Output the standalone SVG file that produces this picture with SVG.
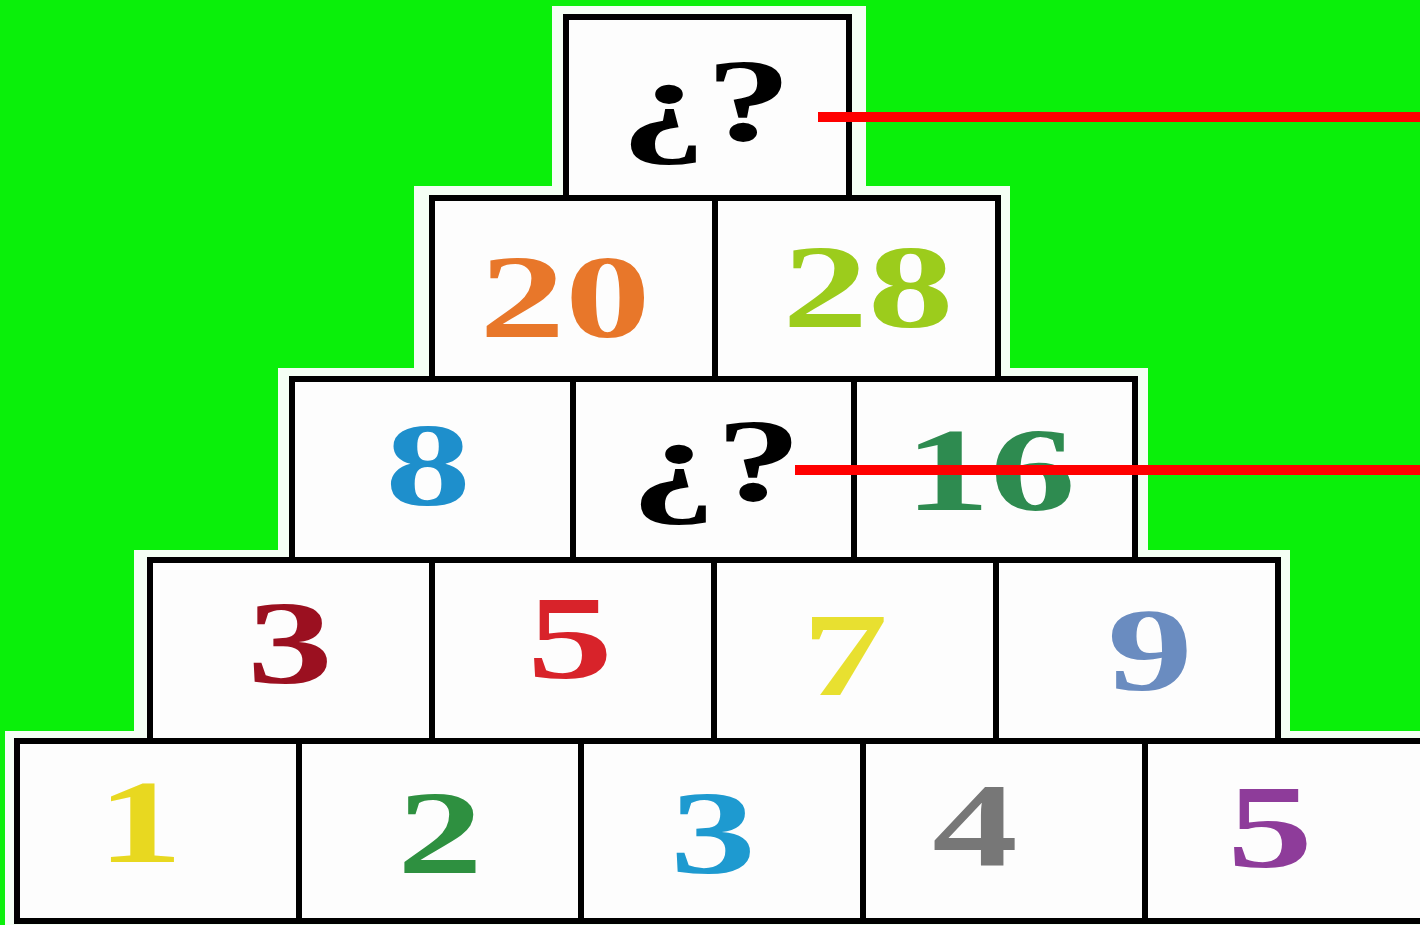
<svg xmlns="http://www.w3.org/2000/svg" width="1420" height="925" viewBox="0 0 1420 925">
<style>
.cell{fill:#fdfdfd;stroke:#000;stroke-width:6}
.num{font-family:"Liberation Serif","DejaVu Serif",serif;font-weight:bold;font-size:118px;text-anchor:middle}
.red{stroke:#ff0000;stroke-width:10}
</style>
<rect width="1420" height="925" fill="#0af00a"/>
<polygon fill="#f4fff4" points="552,6 866,6 866,186 1010,186 1010,368 1148,368 1148,550 1290,550 1290,731 1420,731 1420,925 5,925 5,731 134,731 134,550 278,550 278,368 414,368 414,186 552,186"/>
<g id="row1">
<rect class="cell" x="566" y="17" width="283" height="181"/>
<text class="num" transform="translate(706,140) scale(1.45,1)" fill="#000">¿?</text>
</g>
<g id="row2">
<rect class="cell" x="432" y="198" width="283" height="181"/>
<rect class="cell" x="715" y="198" width="283" height="181"/>
<text class="num" transform="translate(565,337) scale(1.45,1)" fill="#e8772a">20</text>
<text class="num" transform="translate(868,327) scale(1.45,1)" fill="#9ccc1c">28</text>
</g>
<g id="row3">
<rect class="cell" x="292" y="379" width="281" height="181"/>
<rect class="cell" x="573" y="379" width="281" height="181"/>
<rect class="cell" x="854" y="379" width="281" height="181"/>
<text class="num" transform="translate(428,505) scale(1.45,1)" fill="#1e8fcc">8</text>
<text class="num" transform="translate(716,500) scale(1.45,1)" fill="#000">¿?</text>
<text class="num" transform="translate(990,510) scale(1.45,1)" fill="#2e8b50">16</text>
</g>
<g id="row4">
<rect class="cell" x="150" y="560" width="282" height="181"/>
<rect class="cell" x="432" y="560" width="282" height="181"/>
<rect class="cell" x="714" y="560" width="282" height="181"/>
<rect class="cell" x="996" y="560" width="282" height="181"/>
<text class="num" transform="translate(290,683) scale(1.45,1)" fill="#9b1020">3</text>
<text class="num" transform="translate(570,678) scale(1.45,1)" fill="#d8232a">5</text>
<text class="num" transform="translate(845,695) scale(1.45,1)" fill="#e8e030">7</text>
<text class="num" transform="translate(1150,690) scale(1.45,1)" fill="#6a8cc0">9</text>
</g>
<g id="row5">
<rect class="cell" x="17" y="741" width="282" height="180"/>
<rect class="cell" x="299" y="741" width="282" height="180"/>
<rect class="cell" x="581" y="741" width="282" height="180"/>
<rect class="cell" x="863" y="741" width="282" height="180"/>
<rect class="cell" x="1145" y="741" width="282" height="180"/>
<text class="num" transform="translate(140,862) scale(1.45,1)" fill="#e8d820">1</text>
<text class="num" transform="translate(440,873) scale(1.45,1)" fill="#2e9040">2</text>
<text class="num" transform="translate(713,873) scale(1.45,1)" fill="#1e9ad0">3</text>
<text class="num" transform="translate(975,865) scale(1.45,1)" fill="#777777">4</text>
<text class="num" transform="translate(1270,867) scale(1.45,1)" fill="#8e3c9a">5</text>
</g>
<g id="connectors">
<line class="red" x1="818" y1="117" x2="1420" y2="117"/>
<line class="red" x1="795" y1="470" x2="1420" y2="470"/>
</g>
</svg>
